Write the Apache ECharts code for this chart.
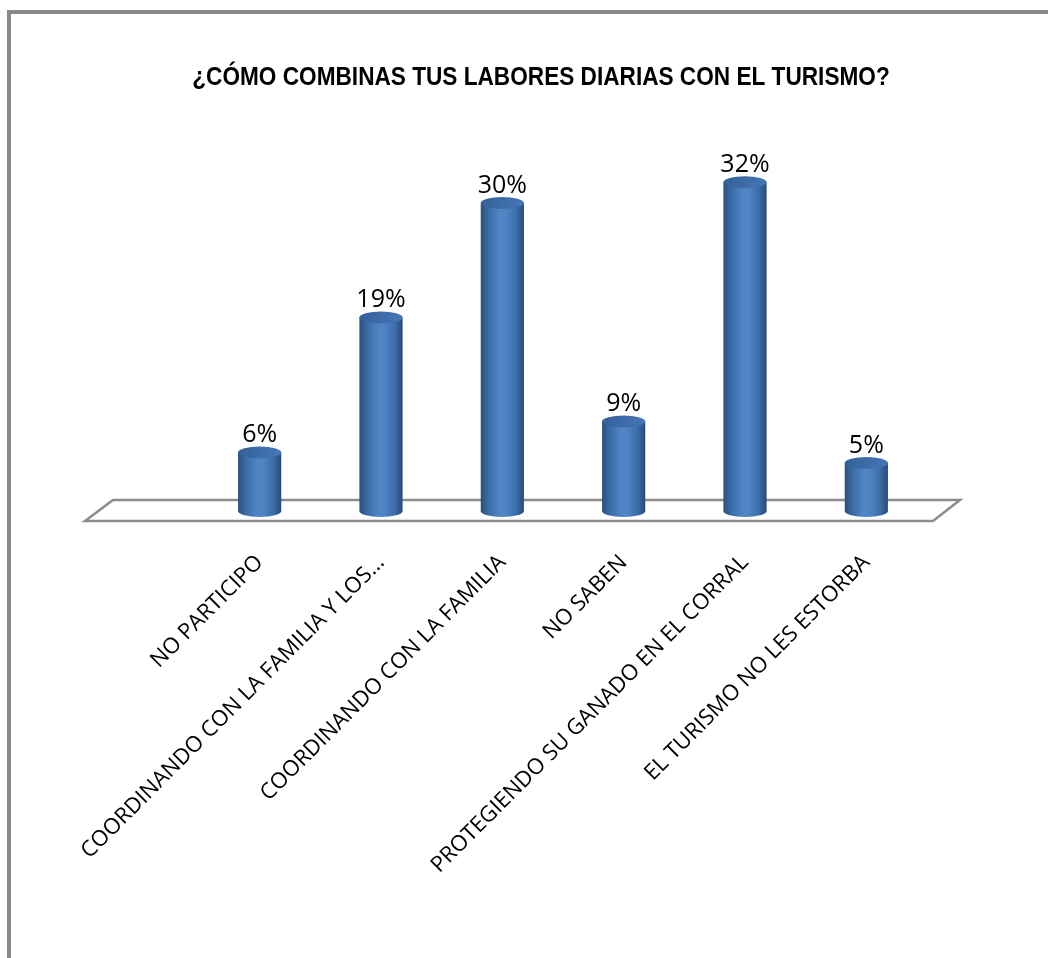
<!DOCTYPE html>
<html><head><meta charset="utf-8">
<script src="https://cdn.jsdelivr.net/npm/echarts@6/dist/echarts.min.js"></script>
<style>html,body{margin:0;padding:0;background:#fff}#c{width:1048px;height:958px}</style>
</head><body><div id="c"></div>
<script>
const titleText = '¿CÓMO COMBINAS TUS LABORES DIARIAS CON EL TURISMO?';
const categories = ['NO PARTICIPO', 'COORDINANDO CON LA FAMILIA Y LOS...', 'COORDINANDO CON LA FAMILIA', 'NO SABEN', 'PROTEGIENDO SU GANADO EN EL CORRAL', 'EL TURISMO NO LES ESTORBA'];
const values = [6, 19, 30, 9, 32, 5];

const chart = echarts.init(document.getElementById('c'), null, {renderer: 'canvas'});

const bodyGrad = {type: 'linear', x: 0, y: 0, x2: 1, y2: 0, colorStops: [
  {offset: 0, color: '#2a4f7d'}, {offset: 0.18, color: '#3a6ca6'}, {offset: 0.45, color: '#5085c7'},
  {offset: 0.58, color: '#4f84c5'}, {offset: 0.82, color: '#3c6da8'}, {offset: 1, color: '#274a76'}]};
const topGrad = {type: 'linear', x: 0, y: 0, x2: 1, y2: 1, colorStops: [
  {offset: 0, color: '#33609a'}, {offset: 1, color: '#4677b5'}]};

function renderCylinder(params, api) {
  const idx = api.value(0), v = api.value(1);
  const base = api.coord([idx, 0]);
  const top = api.coord([idx, v]);
  const rx = api.size([1, 0])[0] * 0.178;
  const ry = 6;
  const cx = top[0], ty = top[1], by = base[1] - 4;
  const body = 'M' + (cx - rx) + ',' + ty + ' L' + (cx - rx) + ',' + by +
    ' A' + rx + ',' + ry + ' 0 0 0 ' + (cx + rx) + ',' + by +
    ' L' + (cx + rx) + ',' + ty + ' Z';
  const cap = 'M' + (cx - rx) + ',' + ty + ' A' + rx + ',' + ry + ' 0 1 0 ' + (cx + rx) + ',' + ty +
    ' A' + rx + ',' + ry + ' 0 1 0 ' + (cx - rx) + ',' + ty + ' Z';
  return {type: 'group', children: [
    {type: 'path', shape: {pathData: body}, style: {fill: bodyGrad}},
    {type: 'path', shape: {pathData: cap}, style: {fill: topGrad}},
    {type: 'text', style: {text: v + '%', x: cx, y: ty - ry + 1, align: 'center', verticalAlign: 'bottom',
      textAlign: 'center', textVerticalAlign: 'bottom',
      font: '25px "Open Sans", "Noto Sans", sans-serif', fill: '#000'}}
  ]};
}

function renderFloor(params, api) {
  if (params.dataIndex !== 0) return null;
  const cs = params.coordSys;
  const zy = api.coord([0, 0])[1];
  const l = cs.x, r = cs.x + cs.width;
  return {type: 'polygon', shape: {points: [
    [l - 86, zy - 15], [r + 33, zy - 15], [r + 6, zy + 6], [l - 114, zy + 6]]},
    style: {fill: '#fff', stroke: '#8c8c8c', lineWidth: 2.5}};
}

const option = {
  backgroundColor: '#fff',
  animation: false,
  graphic: [
    {type: 'polyline', shape: {points: [[9, 960], [9, 12], [1050, 12]]},
      style: {stroke: '#8a8a8a', lineWidth: 4, fill: null}},
    {type: 'text', x: 541, y: 65, scaleX: 0.87, style: {text: titleText, align: 'center', verticalAlign: 'top',
      textAlign: 'center', textVerticalAlign: 'top',
      font: 'bold 26px "Liberation Sans Narrow", "Arial Narrow", "Liberation Sans", sans-serif', fill: '#000'}}
  ],
  grid: {left: 199, right: 121, top: 151, bottom: 443},
  xAxis: {type: 'category', data: categories,
    axisLine: {show: false}, axisTick: {show: false},
    axisLabel: {interval: 0, rotate: 45, margin: 44, color: '#000',
      fontFamily: '"Open Sans", "Noto Sans", sans-serif', fontSize: 22}},
  yAxis: {type: 'value', min: 0, max: 35, show: false, splitLine: {show: false}},
  series: [
    {type: 'custom', z: 1, renderItem: renderFloor, data: [[0, 0]], silent: true},
    {type: 'custom', z: 2, renderItem: renderCylinder,
      data: values.map((v, i) => [i, v]), encode: {x: 0, y: 1}}
  ]
};
chart.setOption(option);
</script>
</body></html>
